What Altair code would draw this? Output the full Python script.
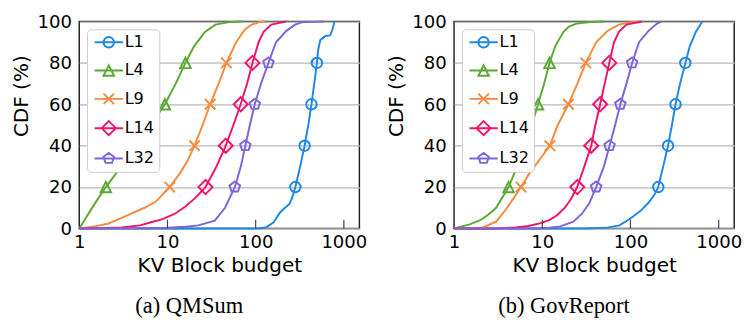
import altair as alt
import pandas as pd

LAYERS = ["L1", "L4", "L9", "L14", "L32"]
COLORS = ["#1f88e5", "#5aaa32", "#f58b3c", "#f2136a", "#8064d9"]
MARK_LEVELS = [20, 40, 60, 80]
X_TICKS = [1, 10, 100, 1000]
Y_TICKS = [0, 20, 40, 60, 80, 100]

# ---------------- (a) QMSum ----------------
qm_L1_x = [1, 50, 100, 125, 134, 160, 188, 215, 243, 260, 282, 320, 359, 395, 429, 462, 495, 510, 540, 617, 700, 740, 784]
qm_L1_y = [0, 0, 0, 0.3, 0.8, 3, 7.6, 10, 12, 15, 20, 30, 40, 50, 60, 70, 80, 86, 91, 93, 93.3, 96, 100]
qm_L4_x = [1, 1.5, 2, 3, 4.66, 7, 9.35, 12.4, 16, 20, 26.6, 35, 50, 70]
qm_L4_y = [0, 12, 20, 30, 40, 52, 60, 70, 80, 88, 95, 98.5, 99.7, 100]
qm_L9_x = [1, 1.5, 2.1, 3, 4.1, 5.5, 7.4, 10.6, 14, 17, 20.3, 25, 30.5, 38, 46.6, 60, 75, 90, 110, 130]
qm_L9_y = [0, 1, 2.3, 5, 7.6, 10, 13, 20, 27, 33, 40, 50, 60, 70, 80, 90, 96, 98.5, 99.7, 100]
qm_L14_x = [1, 2, 3, 4.9, 6.5, 8.8, 12, 16, 21, 27, 36, 45.8, 56, 67.7, 80, 92, 108, 123, 150, 220]
qm_L14_y = [0, 0.2, 0.5, 1.5, 3, 4.5, 7, 10.6, 15, 20, 30, 40, 50, 60, 70, 80, 90, 95, 98.5, 100]
qm_L32_x = [1, 5, 10, 16, 22.4, 34.4, 45, 58, 68, 76.4, 86, 97.7, 115, 139.6, 170, 223, 280, 340, 600]
qm_L32_y = [0, 0.1, 0.3, 0.8, 1.5, 3.8, 10, 20, 30, 40, 50, 60, 70, 80, 90, 95.5, 98.5, 99.7, 100]

qm_mark_L1 = [282, 359, 429, 495]
qm_mark_L4 = [2, 4.66, 9.35, 16]
qm_mark_L9 = [10.6, 20.3, 30.5, 46.6]
qm_mark_L14 = [27, 45.8, 67.7, 92]
qm_mark_L32 = [58, 76.4, 97.7, 139.6]

# ---------------- (b) GovReport ----------------
gv_L1_x = [1, 30, 52.7, 75, 100, 130, 160, 185, 206.5, 235, 266.7, 295, 324, 365, 419, 470, 550, 653]
gv_L1_y = [0, 0, 0.3, 1.5, 4.8, 8.5, 12.4, 16, 20, 30, 40, 50, 60, 70, 80, 88, 95, 100]
gv_L4_x = [1, 1.5, 1.98, 2.5, 3, 4.15, 5.2, 6.36, 7.6, 8.95, 10.5, 12.1, 14, 17.4, 20, 24.5, 35, 50]
gv_L4_y = [0, 2, 4, 7, 10, 20, 30, 40, 50, 60, 70, 80, 88, 95, 97.5, 99, 99.8, 100]
gv_L9_x = [1, 2, 3, 3.9, 4.8, 5.74, 7, 8.5, 10, 12.2, 15, 19.8, 25, 31.1, 40.8, 55, 74, 100, 124]
gv_L9_y = [0, 0, 3.3, 9.4, 15, 20, 26, 31, 35, 40, 50, 60, 70, 80, 90, 95.5, 98.5, 99.6, 100]
gv_L14_x = [1, 3, 5, 7, 9.6, 12, 14.7, 18, 21, 24.9, 30, 35.9, 40, 45.3, 51, 57.5, 65, 74, 90, 134]
gv_L14_y = [0, 0, 0.5, 1.2, 2.6, 4, 6.4, 10, 14, 20, 30, 40, 50, 60, 70, 80, 90, 95, 98.5, 100]
gv_L32_x = [1, 8, 12, 16, 22.5, 28, 34, 40.8, 50, 57.9, 67, 76.7, 90, 104.4, 125, 160, 200, 225]
gv_L32_y = [0, 0, 0.3, 1, 3.3, 7, 12, 20, 30, 40, 50, 60, 70, 80, 90, 95.5, 99, 100]

gv_mark_L1 = [206.5, 266.7, 324, 419]
gv_mark_L4 = [4.15, 6.36, 8.95, 12.1]
gv_mark_L9 = [5.74, 12.2, 19.8, 31.1]
gv_mark_L14 = [24.9, 35.9, 45.3, 57.5]
gv_mark_L32 = [40.8, 57.9, 76.7, 104.4]

# marker shapes (hollow) and legend shapes (line through marker)
MARKER_PATHS = [
    "circle",
    "M0,-1L1,1L-1,1Z",
    "M-1,-1L1,1M-1,1L1,-1",
    "M0,-1.35L1.35,0L0,1.35L-1.35,0Z",
    "M0,-1.05L1,-0.32L0.62,0.85L-0.62,0.85L-1,-0.32Z",
]
LINE = "M-2.7,0L2.7,0"
LEGEND_PATHS = [
    LINE + "M1,0A1,1,0,1,1,-1,0A1,1,0,1,1,1,0",
    LINE + "M0,-1L1,1L-1,1Z",
    LINE + "M-1,-1L1,1M-1,1L1,-1",
    LINE + "M0,-1.35L1.35,0L0,1.35L-1.35,0Z",
    LINE + "M0,-1.05L1,-0.32L0.62,0.85L-0.62,0.85L-1,-0.32Z",
]

W, H = 287, 212
FONT = "DejaVu Sans"
TICK_FS = 18.5
TITLE_FS = 20.5


def build_panel(curves, marks, caption):
    rows = []
    for name, (xs, ys) in zip(LAYERS, curves):
        for i, (xv, yv) in enumerate(zip(xs, ys)):
            rows.append({"layer": name, "x": xv, "cdf": yv, "i": i})
    cdf_df = pd.DataFrame(rows)
    mrows = []
    for name, xs in zip(LAYERS, marks):
        for xv, yv in zip(xs, MARK_LEVELS):
            mrows.append({"layer": name, "leg": name, "x": xv, "cdf": yv})
    mk_df = pd.DataFrame(mrows)
    tick_df = pd.DataFrame({"x": X_TICKS[1:]})

    xenc = alt.X(
        "x:Q",
        scale=alt.Scale(type="log", domain=[1, 1500], nice=False),
        axis=alt.Axis(
            values=X_TICKS, format="d", title="KV Block budget",
            ticks=False, grid=False, domain=False, labelFlush=False,
            labelPadding=5, titlePadding=5,
            labelFont=FONT, labelFontSize=TICK_FS, labelColor="black",
            titleFont=FONT, titleFontSize=TITLE_FS, titleFontWeight="normal", titleColor="black",
        ),
    )
    yenc = alt.Y(
        "cdf:Q",
        scale=alt.Scale(domain=[0, 100], nice=False),
        axis=alt.Axis(
            values=Y_TICKS, title="CDF (%)", grid=True, ticks=False,
            domain=False, labelPadding=8, titlePadding=6, titleY=76,
            gridColor="#b8b8b8", gridWidth=1.3,
            labelFont=FONT, labelFontSize=TICK_FS, labelColor="black",
            titleFont=FONT, titleFontSize=TITLE_FS, titleFontWeight="normal", titleColor="black",
        ),
    )
    color_scale = alt.Scale(domain=LAYERS, range=COLORS)

    lines = alt.Chart(cdf_df).mark_line(strokeWidth=2).encode(
        x=xenc, y=yenc,
        color=alt.Color("layer:N", scale=color_scale, legend=None),
        order="i:Q",
    )
    points = alt.Chart(mk_df).mark_point(filled=False, size=115, strokeWidth=2, opacity=1).encode(
        x=xenc, y=yenc,
        color=alt.Color("layer:N", scale=color_scale, legend=None),
        shape=alt.Shape("layer:N", scale=alt.Scale(domain=LAYERS, range=MARKER_PATHS), legend=None),
    )
    leg_props = dict(
        orient="top-left", offset=8, title=None, fillColor="white",
        strokeColor="#cccccc", cornerRadius=4, padding=5, rowPadding=9,
        labelFont=FONT, labelFontSize=16.5, labelColor="black",
        symbolSize=115, symbolStrokeWidth=2, symbolOpacity=1,
        symbolOffset=9, labelOffset=8, symbolType="circle",
    )
    legend_layer = alt.Chart(mk_df).mark_point(filled=False, size=115, strokeWidth=2, opacity=0).encode(
        x=xenc, y=yenc,
        color=alt.Color("leg:N", scale=color_scale, legend=alt.Legend(**leg_props)),
        shape=alt.Shape("leg:N", scale=alt.Scale(domain=LAYERS, range=LEGEND_PATHS),
                        legend=alt.Legend(**leg_props)),
    )
    ticks = alt.Chart(tick_df).mark_rule(color="#444444", strokeWidth=1.2).encode(
        x=alt.X("x:Q", scale=alt.Scale(type="log", domain=[1, 1500], nice=False)),
        y=alt.value(H), y2=alt.value(H - 9),
    )
    return alt.layer(lines, ticks, points, legend_layer).resolve_scale(
        color="independent", shape="independent"
    ).properties(
        width=W, height=H,
        title=alt.TitleParams(
            caption, orient="bottom", font="Liberation Serif", fontSize=23,
            fontWeight="normal", color="black", anchor="middle", frame="bounds", offset=20,
        ),
    )


left = build_panel(
    [(qm_L1_x, qm_L1_y), (qm_L4_x, qm_L4_y), (qm_L9_x, qm_L9_y), (qm_L14_x, qm_L14_y), (qm_L32_x, qm_L32_y)],
    [qm_mark_L1, qm_mark_L4, qm_mark_L9, qm_mark_L14, qm_mark_L32],
    "(a) QMSum",
)
right = build_panel(
    [(gv_L1_x, gv_L1_y), (gv_L4_x, gv_L4_y), (gv_L9_x, gv_L9_y), (gv_L14_x, gv_L14_y), (gv_L32_x, gv_L32_y)],
    [gv_mark_L1, gv_mark_L4, gv_mark_L9, gv_mark_L14, gv_mark_L32],
    "(b) GovReport",
)

chart = alt.hconcat(left, right, spacing=17).resolve_scale(
    color="independent", shape="independent"
).properties(
    padding={"left": 2, "top": 0, "right": 0, "bottom": 0},
    background="white",
).configure_view(
    stroke="#222222", strokeWidth=1.5,
)

chart.save("out.html", embed_options={"renderer": "svg", "actions": False})
